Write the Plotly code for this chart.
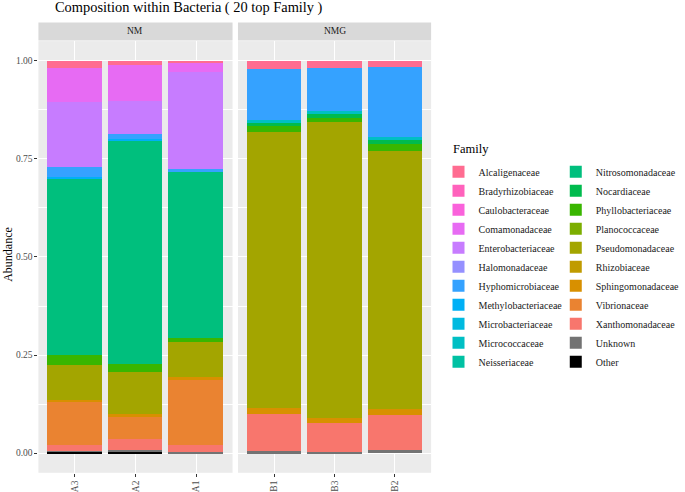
import plotly.graph_objects as go

# ---------------- data ----------------
families = ["Alcaligenaceae", "Bradyrhizobiaceae", "Caulobacteraceae", "Comamonadaceae",
            "Enterobacteriaceae", "Halomonadaceae", "Hyphomicrobiaceae", "Methylobacteriaceae",
            "Microbacteriaceae", "Micrococcaceae", "Neisseriaceae", "Nitrosomonadaceae",
            "Nocardiaceae", "Phyllobacteriaceae", "Planococcaceae", "Pseudomonadaceae",
            "Rhizobiaceae", "Sphingomonadaceae", "Vibrionaceae", "Xanthomonadaceae",
            "Unknown", "Other"]

colors = ["#FF6C91", "#FF62BC", "#FA62DB", "#E76BF3", "#C77CFF", "#9590FF", "#35A2FF",
          "#00B0F6", "#00BAE0", "#00BFC4", "#00C1A3", "#00BF7D", "#00BB4E", "#39B600",
          "#7CAE00", "#A3A500", "#C09B00", "#D89000", "#EA8331", "#F8766D", "#737373",
          "#000000"]

nm_samples = ["A3", "A2", "A1"]
nmg_samples = ["B1", "B3", "B2"]

# abundance per family (same order as `families`)
A3 = [0.019, 0, 0, 0.086, 0.165, 0, 0.027, 0.003, 0, 0, 0, 0.451, 0, 0.025, 0, 0.089, 0, 0.004, 0.110, 0.015, 0.002, 0.004]
A2 = [0.011, 0, 0, 0.092, 0.085, 0, 0.011, 0.007, 0, 0, 0, 0.568, 0, 0.020, 0, 0.107, 0, 0.008, 0.055, 0.029, 0.004, 0.003]
A1 = [0.004, 0, 0, 0.025, 0.246, 0, 0.010, 0, 0, 0, 0, 0.423, 0, 0.010, 0, 0.089, 0, 0.005, 0.167, 0.019, 0.002, 0]
B1 = [0.021, 0, 0, 0, 0, 0, 0.131, 0, 0, 0.008, 0, 0, 0.005, 0.018, 0, 0.701, 0, 0.016, 0, 0.095, 0.005, 0]
B3 = [0.019, 0, 0, 0, 0, 0, 0.110, 0, 0, 0.006, 0, 0, 0.010, 0.012, 0, 0.754, 0, 0.012, 0, 0.074, 0.003, 0]
B2 = [0.016, 0, 0, 0, 0, 0, 0.179, 0, 0, 0.007, 0, 0, 0.011, 0.017, 0, 0.658, 0, 0.016, 0, 0.089, 0.007, 0]

y_ticks = [0, 0.25, 0.5, 0.75, 1.0]
y_ticklabels = ["0.00", "0.25", "0.50", "0.75", "1.00"]
panel_labels = ["NM", "NMG"]
title_text = "Composition within Bacteria ( 20 top Family )"
legend_title = "Family"

# ---------------- figure ----------------
W, H = 685, 492
FONT = "Liberation Serif"


def px(x):
    return x / W


def py(y):
    return 1 - y / H


fig = go.Figure()
n = len(families)
for i in reversed(range(n)):
    fam = families[i]
    col = colors[i]
    leg = "legend" if i < 11 else "legend2"
    fig.add_trace(go.Bar(
        x=nm_samples, y=[A3[i], A2[i], A1[i]], name=fam, width=0.9,
        marker=dict(color=col, line=dict(width=0)), xaxis="x", yaxis="y",
        legendgroup=fam, showlegend=True, legend=leg, legendrank=i + 1))
    fig.add_trace(go.Bar(
        x=nmg_samples, y=[B1[i], B3[i], B2[i]], name=fam, width=0.9,
        marker=dict(color=col, line=dict(width=0)), xaxis="x2", yaxis="y2",
        legendgroup=fam, showlegend=False))

x1_dom = [px(39), px(236)]
x2_dom = [px(241.5), px(437.5)]
y_dom = [py(474.7), py(41.3)]

xcommon = dict(type="category", range=[-0.6, 2.6], tickangle=-90, ticks="outside",
               ticklen=3, tickwidth=1, tickcolor="#333333",
               tickfont=dict(family=FONT, size=9.5, color="#4D4D4D"),
               showgrid=True, gridcolor="white", gridwidth=1, zeroline=False,
               showline=False, fixedrange=True)

ycommon = dict(range=[-0.05, 1.05], tickmode="array", tickvals=y_ticks, ticktext=y_ticklabels,
               showgrid=True, gridcolor="white", gridwidth=1, zeroline=False, showline=False,
               minor=dict(tickvals=[0.125, 0.375, 0.625, 0.875], showgrid=True,
                          gridcolor="white", gridwidth=0.5, ticks=""),
               fixedrange=True)

legcommon = dict(yanchor="top", xanchor="left", y=py(158),
                 font=dict(family=FONT, size=10, color="#1A1A1A"), traceorder="normal",
                 bgcolor="rgba(0,0,0,0)", itemclick=False, itemdoubleclick=False)

fig.update_layout(
    width=W, height=H, margin=dict(l=0, r=0, t=0, b=0),
    paper_bgcolor="white", plot_bgcolor="#EBEBEB",
    barmode="stack", bargap=0,
    font=dict(family=FONT, color="#1A1A1A"),
    xaxis=dict(domain=x1_dom, anchor="y", **xcommon),
    xaxis2=dict(domain=x2_dom, anchor="y2", **xcommon),
    yaxis=dict(domain=y_dom, anchor="x", ticks="outside", ticklen=3, tickwidth=1,
               tickcolor="#333333", tickfont=dict(family=FONT, size=9.5, color="#4D4D4D"),
               **ycommon),
    yaxis2=dict(domain=y_dom, anchor="x2", matches="y", showticklabels=False, ticks="",
                **ycommon),
    legend=dict(x=px(445), **legcommon),
    legend2=dict(x=px(564), **legcommon),
    showlegend=True,
)

# facet strips
shapes = []
annotations = []
for dom, lab in zip([x1_dom, x2_dom], panel_labels):
    shapes.append(dict(type="rect", xref="paper", yref="paper", x0=dom[0], x1=dom[1],
                       y0=py(40.7), y1=py(22.5), fillcolor="#D9D9D9", line=dict(width=0),
                       layer="below"))
    annotations.append(dict(text=lab, xref="paper", yref="paper", x=(dom[0] + dom[1]) / 2,
                            y=py(31.6), xanchor="center", yanchor="middle", showarrow=False,
                            font=dict(family=FONT, size=9.5, color="#1A1A1A")))

annotations.append(dict(text=title_text, xref="paper", yref="paper", x=px(54), y=py(8),
                        xanchor="left", yanchor="middle", showarrow=False,
                        font=dict(family=FONT, size=14.4, color="#000000")))
annotations.append(dict(text="Abundance", xref="paper", yref="paper", x=px(8),
                        y=py(255), xanchor="center", yanchor="middle", textangle=-90,
                        showarrow=False, font=dict(family=FONT, size=12, color="#000000")))
annotations.append(dict(text=legend_title, xref="paper", yref="paper", x=px(458),
                        y=py(150), xanchor="left", yanchor="middle", showarrow=False,
                        font=dict(family=FONT, size=12.5, color="#000000")))

fig.update_layout(shapes=shapes, annotations=annotations)

fig.write_html("out.html", config={"displayModeBar": False},
               post_script="document.body.style.margin='0';document.body.style.padding='0';")
